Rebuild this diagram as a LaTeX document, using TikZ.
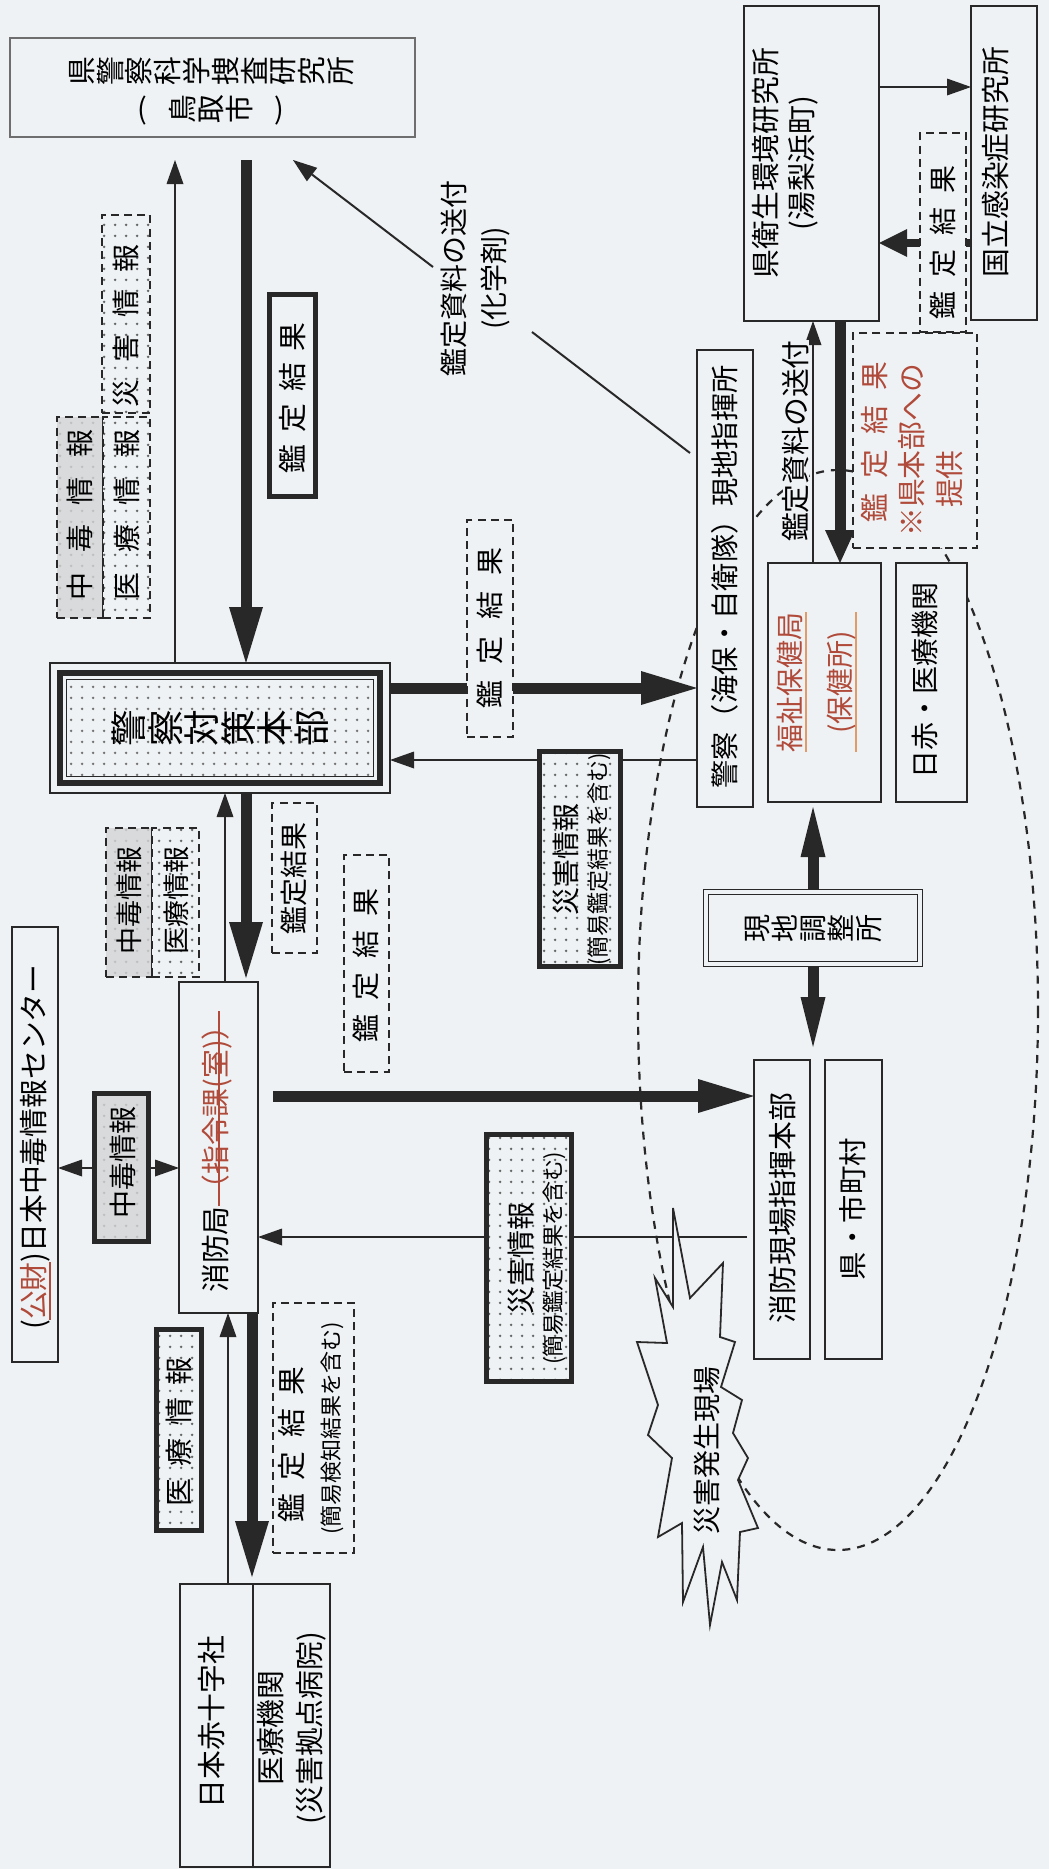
\documentclass[tikz,border=0pt]{standalone}
\usepackage{fontspec}
\setmainfont{Noto Sans CJK JP}
\usepackage{graphicx}
\usetikzlibrary{arrows.meta,calc,patterns.meta}
\definecolor{bgc}{RGB}{239,242,244}
\definecolor{lc}{RGB}{40,40,40}
\definecolor{redc}{RGB}{176,74,58}
\definecolor{ulc}{RGB}{225,155,105}
\definecolor{hatchc}{RGB}{216,218,220}
\definecolor{kkc}{RGB}{110,110,110}
\pgfdeclarelayer{bglayer}
\pgfdeclarelayer{midlayer}
\pgfsetlayers{bglayer,midlayer,main}
\tikzdeclarepattern{
  name=dotgrid,
  type=uncolored,
  bottom left={(0pt,0pt)},
  top right={(5.5pt,5.5pt)},
  tile size={(5.5pt,5.5pt)},
  code={\fill (2.75pt,2.75pt) circle [radius=0.75pt];}
}
\newcommand\vtxstop{}
\newcommand\vtx[1]{\vtxloop#1\vtxstop}
\def\vtxloop#1{\ifx#1\vtxstop\else\rotatebox[origin=c]{90}{\makebox[1em]{\rule[-.12em]{0pt}{1em}#1}}\expandafter\vtxloop\fi}
\newcommand\gp[1]{\hspace{#1em}}
\newcommand\gps[1]{\hspace*{#1em}}
\newcommand\fsz[2]{\fontsize{#1}{#2}\selectfont}
\newcommand\ulx[2]{\setbox0\hbox{#2}\rlap{\color{#1}\rule[-.22em]{\wd0}{.9pt}}\box0}
\newcommand\strk[1]{\setbox0\hbox{#1}\rlap{\rule[.24em]{\wd0}{.8pt}}\box0}
\tikzset{
  BigT/.tip={Triangle[length=28pt,width=17pt,line width=0pt]},
  MidT/.tip={Triangle[length=16.5pt,width=15pt,line width=0pt]},
  SmT/.tip={Triangle[length=14pt,width=14pt,line width=0pt]},
  ChT/.tip={Triangle[length=25pt,width=12.5pt,line width=0pt]},
  ThT/.tip={Triangle[length=12pt,width=8.5pt,line width=0pt]}
}
\begin{document}
\begin{tikzpicture}[x=0.5pt,y=-0.5pt,
  box/.style={draw=lc, line width=0.9pt, fill=bgc, inner sep=0pt, outer sep=0pt},
  tbox/.style={box, line width=2.6pt},
  dbox/.style={box, line width=1.1pt, dash pattern=on 4pt off 2.6pt},
  dotfl/.style={preaction={fill=bgc}, pattern=dotgrid, pattern color=black!60},
  grayfl/.style={preaction={fill=hatchc}, pattern=dotgrid, pattern color=black!25},
  rt/.style={rotate=90, align=center, inner sep=0pt, outer sep=0pt},
  vt/.style={align=center, inner sep=0pt, outer sep=0pt},
  thinarr/.style={draw=lc, line width=1pt, -ThT},
  thkarr/.style={draw=lc, line width=5.5pt, -BigT}
]
\begin{pgfonlayer}{bglayer}
  \fill[bgc] (0,0) rectangle (1049,1869);
  \draw[lc, line width=1.1pt, dash pattern=on 4pt off 3.5pt] (838,1010) ellipse [x radius=200, y radius=540];
\end{pgfonlayer}
\useasboundingbox (0,0) rectangle (1049,1869);

% ---------- main boxes ----------
\node[box, draw=kkc, line width=0.7pt, minimum width=202.5pt, minimum height=49.5pt] (kk) at (212.5,87.5) {};
\node[vt, font=\fsz{14.4}{19}] (kkt) at (211,91) {\vtx{県警察科学捜査研究所}\\(\gp{.7}\vtx{鳥取市}\gp{.7})};

\node[box, minimum width=67.5pt, minimum height=157.5pt] (B) at (811.5,163.5) {};
\node[rt, font=\fsz{14.4}{18}] (Bt) at (785,163) {県衛生環境研究所\\(湯梨浜町)};

\node[box, minimum width=33pt, minimum height=157pt] (C) at (1004,163) {};
\node[rt, font=\fsz{14.4}{18}] (Ct) at (996,162) {国立感染症研究所};

\node[box, minimum width=28pt, minimum height=228.5pt] (D) at (725,578.5) {};
\node[rt, font=\fsz{14.1}{18}] (Dt) at (725,577) {警察（海保・自衛隊）現地指揮所};

\node[box, minimum width=56.5pt, minimum height=119.5pt] (F) at (824.5,682.5) {};
\node[rt, text=redc, font=\fsz{14}{25}] (Ft) at (817,682) {\ulx{ulc}{\makebox[5em]{福祉保健局}}\\\ulx{ulc}{\makebox[5em]{(保健所)}}};

\node[box, minimum width=35.5pt, minimum height=119.5pt] (F2) at (931.5,682.5) {};
\node[rt, font=\fsz{14}{18}] (F2t) at (925,680) {日赤・医療機関};

\node[dbox, minimum width=62pt, minimum height=107.5pt] (G) at (915,440.5) {};
\node[rt, align=left, text=redc, font=\fsz{14.4}{18.75}] (Gt) at (912,449) {\gps{.5}鑑\gp{.53}定\gp{.53}結\gp{.53}果\\※県本部への\\\gps{1}提供};

\node[box, draw=lc, line width=0.8pt, double=bgc, double distance=1.6pt, minimum width=107pt, minimum height=36pt] (I) at (813,928) {};
\node[vt, font=\fsz{14}{18}] (It) at (813,928) {\vtx{現地調整所}};

\node[box, minimum width=28pt, minimum height=149.5pt] (J) at (782,1209.5) {};
\node[rt, font=\fsz{14.4}{18}] (Jt) at (783,1208) {消防現場指揮本部};

\node[box, minimum width=28.5pt, minimum height=149.5pt] (K) at (853.5,1209.5) {};
\node[rt, font=\fsz{14.2}{18}] (Kt) at (853,1209) {県・市町村};

\node[box, line width=0.8pt, minimum width=170pt, minimum height=65pt,
  path picture={
    \fill[pattern=dotgrid, pattern color=black!55] ([shift={(8.5pt,-8.5pt)}]path picture bounding box.north west) rectangle ([shift={(-8.5pt,8.5pt)}]path picture bounding box.south east);
    \draw[lc, line width=3pt] ([shift={(5pt,-5pt)}]path picture bounding box.north west) rectangle ([shift={(-5pt,5pt)}]path picture bounding box.south east);
    \draw[lc, line width=0.8pt] ([shift={(8.3pt,-8.3pt)}]path picture bounding box.north west) rectangle ([shift={(-8.3pt,8.3pt)}]path picture bounding box.south east);
  }] (hq) at (220,728) {};
\node[vt, font=\fsz{18.3}{20}] (hqt) at (220,728) {\vtx{警察対策本部}};

\node[box, minimum width=39.5pt, minimum height=165.5pt] (M) at (218.5,1147.5) {};
\node[rt, font=\fsz{14.4}{18}] (Mt) at (217,1152) {消防局\textcolor{redc}{\strk{\gp{.1}（指令課(室)）}}};

\node[box, minimum width=23pt, minimum height=217.5pt] (N) at (35,1144.5) {};
\node[rt, font=\fsz{14.4}{18}] (Nt) at (36,1147) {(\textcolor{redc}{\ulx{redc}{公財}})日本中毒情報センター};

\node[box, minimum width=36.5pt, minimum height=141.5pt] (P1) at (216.5,1725.5) {};
\node[rt, font=\fsz{14.4}{18}] (P1t) at (212,1722) {日本赤十字社};
\node[box, minimum width=38.5pt, minimum height=141.5pt] (P2) at (291.5,1725.5) {};
\node[rt, font=\fsz{14.4}{19.5}] (P2t) at (292,1728) {医療機関\\(災害拠点病院)};

% ---------- label boxes ----------
\node[tbox, grayfl, minimum width=27pt, minimum height=74pt] (O) at (121.5,1167.5) {};
\node[rt, font=\fsz{14}{18}] (Ot) at (123,1162) {中毒情報};

\node[tbox, dotfl, minimum width=22.5pt, minimum height=100.5pt] (Q) at (179,1430) {};
\node[rt, font=\fsz{14}{18}] (Qt) at (179,1432) {医\gp{.45}療\gp{.45}情\gp{.45}報};

\node[dbox, minimum width=40.5pt, minimum height=125pt] (R) at (313.5,1428) {};
\node[rt, align=left, font=\fsz{14.4}{18.5}] (Rt) at (311,1428) {\gps{.4}鑑\gp{.48}定\gp{.48}結\gp{.48}果\\{\fsz{11}{14}(簡易検知結果を含む)}};

\node[tbox, dotfl, minimum width=40.5pt, minimum height=107.5pt] (S) at (580,859) {};
\node[rt, font=\fsz{14}{15}] (St) at (582,859) {災害情報\\{\fsz{11}{15}(簡易鑑定結果を含む)}};

\node[tbox, dotfl, minimum width=42.5pt, minimum height=123.5pt] (T) at (529,1258) {};
\node[rt, font=\fsz{14}{15}] (Tt) at (537,1258) {災害情報\\{\fsz{11}{15}(簡易鑑定結果を含む)}};

\node[dbox, minimum width=22.5pt, minimum height=108.5pt] (U) at (366.5,963.5) {};
\node[rt, font=\fsz{14}{18}] (Ut) at (366,965) {鑑\gp{.5}定\gp{.5}結\gp{.5}果};

\node[dbox, minimum width=22.5pt, minimum height=75pt] (V) at (294.5,878) {};
\node[rt, font=\fsz{14}{18}] (Vt) at (294,878) {鑑定結果};

\node[dbox, grayfl, minimum width=23pt, minimum height=74.5pt] (W1) at (129,902.5) {};
\node[rt, font=\fsz{13.5}{18}] (W1t) at (129,900) {中毒情報};
\node[dbox, dotfl, minimum width=23.5pt, minimum height=74.5pt] (W2) at (175.5,902.5) {};
\node[rt, font=\fsz{13.5}{18}] (W2t) at (176,900) {医療情報};

\node[dbox, grayfl, minimum width=23pt, minimum height=100.5pt] (X1) at (80,517.5) {};
\node[rt, font=\fsz{14}{18}] (X1t) at (80,515) {中\gp{.7}毒\gp{.7}情\gp{.7}報};
\node[dbox, dotfl, minimum width=23.5pt, minimum height=100.5pt] (X2) at (126.5,517.5) {};
\node[rt, font=\fsz{14}{18}] (X2t) at (127,515) {医\gp{.7}療\gp{.7}情\gp{.7}報};
\node[dbox, dotfl, minimum width=24pt, minimum height=99pt] (X3) at (126,314) {};
\node[rt, font=\fsz{14}{18}] (X3t) at (126,326) {災\gp{.6}害\gp{.6}情\gp{.6}報};

\node[tbox, minimum width=23pt, minimum height=101pt] (Y) at (292.5,395.5) {};
\node[rt, font=\fsz{14.4}{18}] (Yt) at (292.5,398) {鑑\gp{.42}定\gp{.42}結\gp{.42}果};

\node[dbox, minimum width=23pt, minimum height=108.5pt] (Z) at (490,628.5) {};
\node[rt, font=\fsz{14}{18}] (Zt) at (490,628) {鑑\gp{.58}定\gp{.58}結\gp{.58}果};

\node[dbox, minimum width=23pt, minimum height=99.5pt] (H) at (943,232.5) {};
\node[rt, font=\fsz{14}{18}] (Ht) at (943,242) {鑑\gp{.5}定\gp{.5}結\gp{.5}果};

\node[rt, font=\fsz{14}{20}] (lbl1) at (475,278) {鑑定資料の送付\\(化学剤)};
\node[rt, font=\fsz{14.4}{18}, fill=bgc] (lbl2) at (796,441) {鑑定資料の送付};

% ---------- disaster site ----------
\draw[lc, line width=0.9pt, fill=bgc] (658,1405) -- (637,1342) -- (667,1343) -- (655,1278) -- (673,1307) -- (673,1208) -- (690,1298) -- (723,1263) -- (720,1337) -- (735,1342) -- (721,1387) -- (742,1400) -- (733,1433) -- (748,1458) -- (738,1480) -- (758,1528) -- (740,1532) -- (737,1600) -- (722,1562) -- (710,1625) -- (703,1547) -- (683,1602) -- (682,1523) -- (658,1537) -- (672,1458) -- (648,1435) -- cycle;
\node[rt, font=\fsz{14}{18}] (burst) at (707,1450) {災害発生現場};

% ---------- connectors ----------
\begin{pgfonlayer}{midlayer}
\coordinate (kkin) at (175,160);
\coordinate (kkout) at (246,160);
\draw[thinarr] (kkin |- hq.north) -- (kkin);
\draw[thkarr] (kkout) -- (kkout |- hq.north);

\coordinate (dg1) at (690,453);
\coordinate (dg2) at (532,332);
\coordinate (dg3) at (433,267);
\coordinate (dg4) at (293,160);
\draw[lc, line width=1pt] (dg1) -- (dg2);
\draw[thinarr] (dg3) -- (dg4);

\coordinate (r688) at (0,688);
\coordinate (r760) at (0,760);
\draw[thkarr] (hq.east |- r688) -- (D.west |- r688);
\draw[thinarr] (D.west |- r760) -- (hq.east |- r760);

\coordinate (x246) at (246,0);
\coordinate (x225) at (225,0);
\draw[thkarr, shorten >=2pt] (hq.south -| x246) -- (M.north -| x246);
\draw[thinarr] (M.north -| x225) -- (hq.south -| x225);

\coordinate (r1096) at (0,1096);
\coordinate (r1237) at (0,1237);
\draw[thkarr, shorten <=7.5pt] (M.east |- r1096) -- (J.west |- r1096);
\draw[thinarr, shorten <=3.5pt] (J.west |- r1237) -- (M.east |- r1237);

\coordinate (r1168) at (0,1168);
\draw[thinarr] (O.west |- r1168) -- (N.east |- r1168);
\draw[thinarr] (O.east |- r1168) -- (M.west |- r1168);

\coordinate (x252) at (252,0);
\coordinate (x228) at (228,0);
\draw[thkarr, shorten >=3.5pt] (M.south -| x252) -- (P1.north -| x252);
\draw[thinarr] (P1.north -| x228) -- (M.south -| x228);

\coordinate (x813) at (813,0);
\coordinate (x840) at (840,0);
\draw[draw=lc, line width=5.5pt, -ChT, shorten >=2.5pt] (I.north -| x813) -- (F.south -| x813);
\draw[draw=lc, line width=5.5pt, -ChT, shorten >=6.5pt] (I.south -| x813) -- (J.north -| x813);
\draw[thinarr] (F.north -| x813) -- (B.south -| x813);
\draw[draw=lc, line width=5.5pt, -MidT] (B.south -| x840) -- (F.north -| x840);

\coordinate (r87) at (0,87);
\coordinate (r243) at (0,243);
\draw[thinarr] (B.east |- r87) -- (C.west |- r87);
\draw[draw=lc, line width=4pt, -SmT] (C.west |- r243) -- (B.east |- r243);
\end{pgfonlayer}
\end{tikzpicture}
\end{document}
